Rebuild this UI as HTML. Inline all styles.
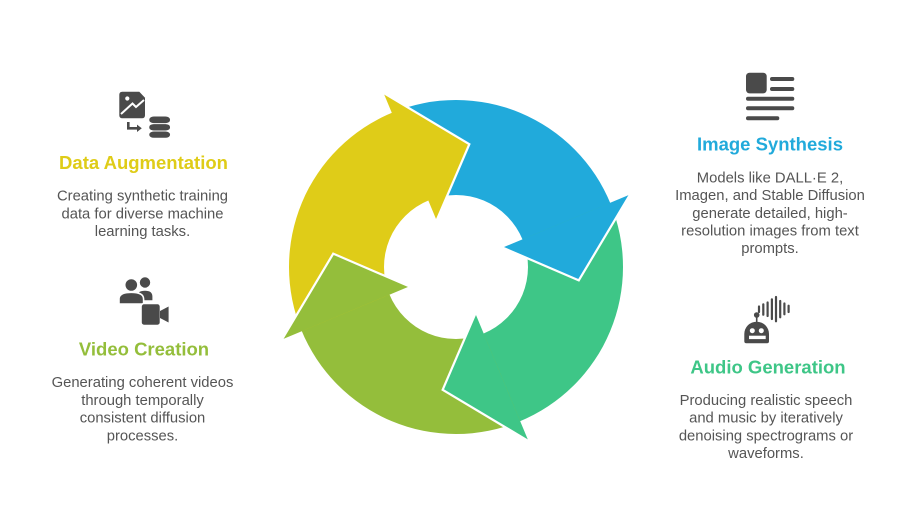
<!DOCTYPE html>
<html>
<head>
<meta charset="utf-8">
<style>
  html,body{margin:0;padding:0;background:#ffffff;}
  svg{display:block;}
  .t{font-family:"Liberation Sans",Arial,sans-serif;font-weight:bold;font-size:18.5px;text-anchor:middle;}
  .d{font-family:"Liberation Sans",Arial,sans-serif;font-size:14.8px;fill:#555555;text-anchor:middle;}
</style>
</head>
<body>
<svg width="912" height="511" viewBox="0 0 912 511" xmlns="http://www.w3.org/2000/svg">
  <rect width="912" height="511" fill="#ffffff"/>

  <!-- Bands -->
  <path d="M 391.82 112.82 A 167 167 0 0 1 610.73 204.17 L 522.71 239.91 A 72 72 0 0 0 428.33 200.53 Z" fill="#21AADB"/>
  <path transform="rotate(90 456 267)" d="M 391.82 112.82 A 167 167 0 0 1 610.73 204.17 L 522.71 239.91 A 72 72 0 0 0 428.33 200.53 Z" fill="#3EC687"/>
  <path transform="rotate(180 456 267)" d="M 391.82 112.82 A 167 167 0 0 1 610.73 204.17 L 522.71 239.91 A 72 72 0 0 0 428.33 200.53 Z" fill="#94BE3B"/>
  <path transform="rotate(270 456 267)" d="M 391.82 112.82 A 167 167 0 0 1 610.73 204.17 L 522.71 239.91 A 72 72 0 0 0 428.33 200.53 Z" fill="#DFCC18"/>

  <!-- Heads -->
  <g>
    <path d="M 630.03 194.56 L 578.78 280.34 L 502.62 247.59 Z" fill="#21AADB"/>
    <path d="M 630.03 194.56 L 578.78 280.34 L 502.62 247.59" fill="none" stroke="#ffffff" stroke-width="2.2"/>
  </g>
  <g transform="rotate(90 456 267)">
    <path d="M 630.03 194.56 L 578.78 280.34 L 502.62 247.59 Z" fill="#3EC687"/>
    <path d="M 630.03 194.56 L 578.78 280.34 L 502.62 247.59" fill="none" stroke="#ffffff" stroke-width="2.2"/>
  </g>
  <g transform="rotate(180 456 267)">
    <path d="M 630.03 194.56 L 578.78 280.34 L 502.62 247.59 Z" fill="#94BE3B"/>
    <path d="M 630.03 194.56 L 578.78 280.34 L 502.62 247.59" fill="none" stroke="#ffffff" stroke-width="2.2"/>
  </g>
  <g transform="rotate(270 456 267)">
    <path d="M 630.03 194.56 L 578.78 280.34 L 502.62 247.59 Z" fill="#DFCC18"/>
    <path d="M 630.03 194.56 L 578.78 280.34 L 502.62 247.59" fill="none" stroke="#ffffff" stroke-width="2.2"/>
  </g>

  <!-- Icon: Data Augmentation -->
  <g fill="#4a4a4a">
    <path d="M122.3 91.7 H139.3 L145 97.7 V115.3 Q145 118.3 142 118.3 H122.3 Q119.3 118.3 119.3 115.3 V94.7 Q119.3 91.7 122.3 91.7 Z"/>
    <circle cx="127.3" cy="98.5" r="2.1" fill="#ffffff"/>
    <polyline points="121,114 132.5,103.5 136,107 144,100" fill="none" stroke="#ffffff" stroke-width="2"/>
    <path d="M128.3 122 V128.3 H138" fill="none" stroke="#4a4a4a" stroke-width="2.6"/>
    <polygon points="137,124.6 141.8,128.3 137,132"/>
    <rect x="149.3" y="116.5" width="20.7" height="6.6" rx="4.5" ry="3"/>
    <rect x="149.3" y="124.1" width="20.7" height="6.4" rx="4.5" ry="2.8"/>
    <rect x="149.3" y="131.5" width="20.7" height="6.3" rx="4.5" ry="2.8"/>
  </g>

  <!-- Icon: Video Creation -->
  <g fill="#4a4a4a" stroke="#ffffff" stroke-width="1.6">
    <circle cx="145" cy="282.5" r="6"/>
    <path d="M136.5 301 V296.5 Q136.5 290 145 290 Q153.2 290 153.2 296.5 V301 Z"/>
    <circle cx="131.3" cy="285" r="6.6"/>
    <path d="M119 304 V299 Q119 292.3 131.3 292.3 Q143.6 292.3 143.6 299 V304 Z"/>
    <rect x="141" y="303.5" width="19.5" height="22" rx="3"/>
    <polygon points="160,311 168.6,306.5 168.6,322.5 160,318" stroke="none"/>
  </g>

  <!-- Icon: Image Synthesis -->
  <g fill="#4a4a4a">
    <rect x="746" y="72.7" width="20.7" height="20.7" rx="3.5"/>
  </g>
  <g stroke="#4a4a4a" stroke-width="4" stroke-linecap="round" fill="none">
    <line x1="772" y1="79" x2="792.3" y2="79"/>
    <line x1="772" y1="89" x2="792.3" y2="89"/>
    <line x1="748" y1="98.7" x2="792.3" y2="98.7"/>
    <line x1="748" y1="108.3" x2="792.3" y2="108.3"/>
    <line x1="748" y1="118.3" x2="777.3" y2="118.3"/>
  </g>

  <!-- Icon: Audio Generation -->
  <g fill="#4a4a4a">
    <path d="M744.3 341.3 V334 A12.35 12.3 0 0 1 769 334 V341.3 Q769 343.3 767 343.3 H746.3 Q744.3 343.3 744.3 341.3 Z"/>
    <circle cx="756.7" cy="315" r="2.8"/>
    <rect x="755.9" y="315" width="1.6" height="7.5"/>
    <circle cx="752.3" cy="330.7" r="2.5" fill="#ffffff"/>
    <circle cx="761.3" cy="330.7" r="2.5" fill="#ffffff"/>
    <rect x="749" y="335.7" width="16.7" height="3.4" fill="#ffffff"/>
  </g>
  <g stroke="#4a4a4a" stroke-width="2.2" stroke-linecap="round">
    <line x1="759" y1="306.5" x2="759" y2="312"/>
    <line x1="763.3" y1="304.3" x2="763.3" y2="314.7"/>
    <line x1="767.6" y1="302.5" x2="767.6" y2="316"/>
    <line x1="771.9" y1="299.3" x2="771.9" y2="319"/>
    <line x1="776" y1="297" x2="776" y2="321.3"/>
    <line x1="780.2" y1="301" x2="780.2" y2="317.3"/>
    <line x1="784.4" y1="303.5" x2="784.4" y2="314.3"/>
    <line x1="788.6" y1="305.7" x2="788.6" y2="312"/>
  </g>

  <!-- Text: Data Augmentation -->
  <text class="t" x="143.5" y="169" fill="#DFCC18">Data Augmentation</text>
  <text class="d" x="142.5" y="200.7">Creating synthetic training</text>
  <text class="d" x="142.5" y="218.4">data for diverse machine</text>
  <text class="d" x="142.5" y="236.1">learning tasks.</text>

  <!-- Text: Video Creation -->
  <text class="t" x="144" y="355.5" fill="#94BE3B">Video Creation</text>
  <text class="d" x="142.5" y="387.2">Generating coherent videos</text>
  <text class="d" x="142.5" y="404.9">through temporally</text>
  <text class="d" x="142.5" y="422.6">consistent diffusion</text>
  <text class="d" x="142.5" y="440.3">processes.</text>

  <!-- Text: Image Synthesis -->
  <text class="t" x="770" y="150.7" fill="#21AADB">Image Synthesis</text>
  <text class="d" x="770" y="182.4">Models like DALL·E 2,</text>
  <text class="d" x="770" y="200.1">Imagen, and Stable Diffusion</text>
  <text class="d" x="770" y="217.8">generate detailed, high-</text>
  <text class="d" x="770" y="235.5">resolution images from text</text>
  <text class="d" x="770" y="253.2">prompts.</text>

  <!-- Text: Audio Generation -->
  <text class="t" x="768" y="373.3" fill="#3EC687">Audio Generation</text>
  <text class="d" x="766" y="405">Producing realistic speech</text>
  <text class="d" x="766" y="422.7">and music by iteratively</text>
  <text class="d" x="766" y="440.4">denoising spectrograms or</text>
  <text class="d" x="766" y="458.1">waveforms.</text>
</svg>
</body>
</html>
